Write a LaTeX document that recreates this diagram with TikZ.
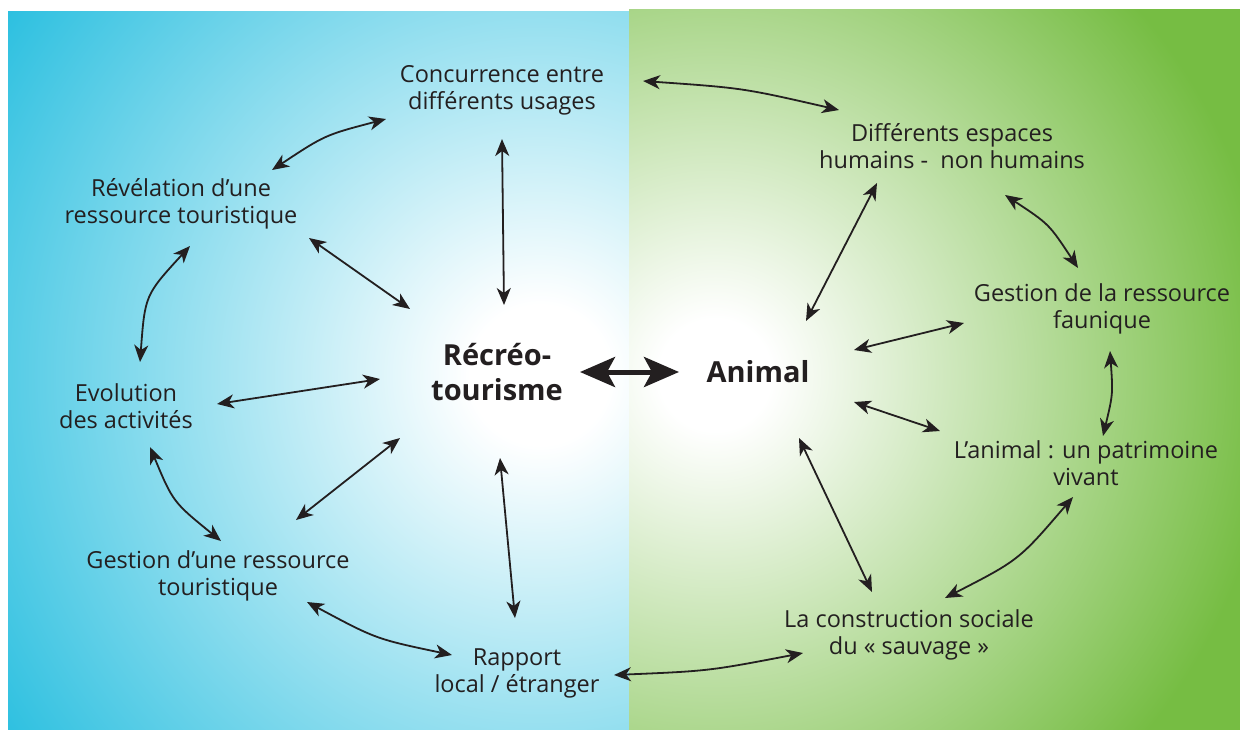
\documentclass[tikz,border=0pt]{standalone}
\usepackage{fontspec}
\setmainfont{Open Sans}
\usetikzlibrary{arrows.meta}
\definecolor{cyanA}{HTML}{2DC0E0}
\definecolor{greenA}{HTML}{76BD43}
\definecolor{ink}{HTML}{231F20}
\pgfdeclareradialshading{bluesh}{\pgfpoint{0bp}{0bp}}{color(0bp)=(white); color(2.5bp)=(white); color(23bp)=(cyanA); color(50bp)=(cyanA)}
\pgfdeclareradialshading{greensh}{\pgfpoint{0bp}{0bp}}{color(0bp)=(white); color(2bp)=(white); color(20bp)=(greenA); color(50bp)=(greenA)}
\begin{document}
\begin{tikzpicture}[x=1pt,y=-1pt,
 lbl/.style={align=center, inner sep=0pt, text=ink, font=\fontsize{23.5}{27}\selectfont},
 hub/.style={align=center, inner sep=0pt, text=ink, font=\fontsize{29}{35}\selectfont\bfseries},
 arr/.style={draw=ink, line width=1.8pt, {Stealth[length=17pt,width=14pt,inset=5pt]}-{Stealth[length=17pt,width=14pt,inset=5pt]}},
 bigarr/.style={draw=ink, line width=5pt, {Stealth[length=35pt,width=30pt,inset=8pt]}-{Stealth[length=35pt,width=30pt,inset=8pt]}}]
\useasboundingbox (0,0) rectangle (1240,729);
\fill[white] (0,0) rectangle (1240,729);
\begin{scope}
\clip (8,11) rectangle (629,729);
\shade[shading=bluesh] (540,375) circle (700pt);
\end{scope}
\begin{scope}
\clip (629,9) rectangle (1240,729);
\shade[shading=greensh] (715,375) circle (700pt);
\end{scope}

\node[lbl] (conc) at (502,90) {Concurrence entre\\différents usages};
\node[lbl] (diff) at (952,146) {Différents espaces\\humains -\ \ non humains};
\node[lbl] (rev) at (181,204) {Révélation d’une\\ressource touristique};
\node[lbl] (evo) at (126,406) {Evolution\\des activités};
\node[lbl] (gest) at (218,576) {Gestion d’une ressource\\touristique};
\node[lbl] (rapp) at (517,673) {Rapport\\local / étranger};
\node[lbl] (gfau) at (1102,309) {Gestion de la ressource\\faunique};
\node[lbl] (pat) at (1086,463) {L’animal : un patrimoine\\vivant};
\node[lbl] (cons) at (909,635) {La construction sociale\\du « sauvage »};
\node[hub] (rec) at (497,372) {Récréo-\\tourisme};
\node[hub] (ani) at (758,372) {Animal};

\draw[arr] ([shift={(-116,29)}]conc.center) .. controls (325,135) .. ([shift={(91,-34)}]rev.center);
\draw[arr] ([shift={(0,49)}]conc.center) -- ([shift={(7,-67)}]rec.center);
\draw[arr] ([shift={(128,34)}]rev.center) -- ([shift={(-87,-63)}]rec.center);
\draw[arr] ([shift={(9,42)}]rev.center) .. controls (145,295) .. ([shift={(14,-44)}]evo.center);
\draw[arr] ([shift={(91,-2)}]evo.center) -- ([shift={(-117,7)}]rec.center);
\draw[arr] ([shift={(24,41)}]evo.center) .. controls (173,502) .. ([shift={(3,-35)}]gest.center);
\draw[arr] ([shift={(78,-56)}]gest.center) -- ([shift={(-97,66)}]rec.center);
\draw[arr] ([shift={(89,26)}]gest.center) .. controls (376,639) .. ([shift={(-65,-18)}]rapp.center);
\draw[arr] ([shift={(3,86)}]rec.center) -- ([shift={(-2,-55)}]rapp.center);
\draw[arr] ([shift={(97,2)}]rapp.center) .. controls (709,671) .. ([shift={(-106,18)}]cons.center);
\draw[arr] ([shift={(141,-9)}]conc.center) .. controls (743,88) .. ([shift={(-113,-36)}]diff.center);
\draw[arr] ([shift={(-75,37)}]diff.center) -- ([shift={(48,-51)}]ani.center);
\draw[arr] ([shift={(53,49)}]diff.center) .. controls (1049,224) .. ([shift={(-24,-41)}]gfau.center);
\draw[arr] ([shift={(96,-22)}]ani.center) -- ([shift={(-138,14)}]gfau.center);
\draw[arr] ([shift={(8,42)}]gfau.center) .. controls (1113,394) .. ([shift={(17,-27)}]pat.center);
\draw[arr] ([shift={(96,30)}]ani.center) -- ([shift={(-146,-32)}]pat.center);
\draw[arr] ([shift={(-13,34)}]pat.center) .. controls (1019,560) .. ([shift={(36,-37)}]cons.center);
\draw[arr] ([shift={(41,66)}]ani.center) -- ([shift={(-37,-43)}]cons.center);
\draw[bigarr] ([shift={(83,0)}]rec.center) -- ([shift={(-79,0)}]ani.center);
\end{tikzpicture}
\end{document}
